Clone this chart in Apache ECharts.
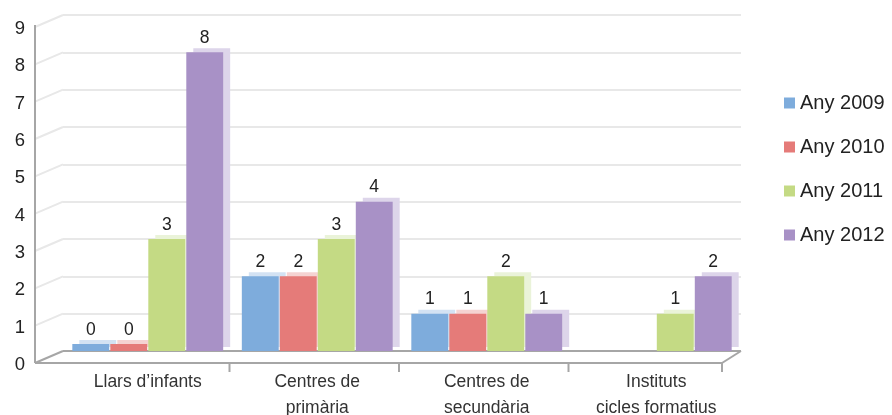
<!DOCTYPE html>
<html>
<head>
<meta charset="utf-8">
<script src="https://cdn.jsdelivr.net/npm/echarts@6/dist/echarts.min.js"></script>
<style>html,body{margin:0;padding:0;background:#fff}#c{width:892px;height:415px}</style>
</head>
<body>
<div id="c"></div>
<script>
const categories = ['Llars d\u2019infants', 'Centres de\nprimària', 'Centres de\nsecundària', 'Instituts\ncicles formatius'];
const seriesNames = ['Any 2009', 'Any 2010', 'Any 2011', 'Any 2012'];
const any2009 = [0, 2, 1, null];
const any2010 = [0, 2, 1, null];
const any2011 = [3, 3, 2, 1];
const any2012 = [8, 4, 1, 2];
const yTicks = [0, 1, 2, 3, 4, 5, 6, 7, 8, 9];

const colors = ['#7eacdc', '#e57b79', '#c4da84', '#a891c6'];
const sideColors = ['#d3e2f3', '#f5d3d2', '#eaf3d9', '#ddd5ea'];
const FONT = 'Liberation Sans, Arial, sans-serif';
const FRONT_DY = 12;   // vertical shift of the front plane (3D look)
const FRONT_X = 35;    // x of the front wall line

const chart = echarts.init(document.getElementById('c'), null, {renderer: 'canvas'});
const allData = [any2009, any2010, any2011, any2012];

chart.setOption({
  animation: false,
  textStyle: {fontFamily: FONT},
  grid: {left: 63, right: 151, top: 15, bottom: 64, containLabel: false, outerBoundsMode: 'none'},
  legend: {
    orient: 'vertical', left: 779, top: 87, itemWidth: 11, itemHeight: 11, itemGap: 22,
    icon: 'rect',
    textStyle: {fontSize: 20, color: '#222', fontFamily: FONT, lineHeight: 22},
    data: seriesNames
  },
  xAxis: {
    type: 'category', data: categories, offset: FRONT_DY - 1,
    axisLine: {show: false},
    axisTick: {show: false},
    axisLabel: {fontSize: 17.5, color: '#333', lineHeight: 26, margin: 7, fontFamily: FONT}
  },
  yAxis: {
    type: 'value', min: 0, max: 9, interval: 1, offset: 63 - FRONT_X,
    axisLine: {show: false},
    axisTick: {show: false},
    axisLabel: {fontSize: 18.5, color: '#222', margin: 10, fontFamily: FONT, verticalAlign: 'top', lineHeight: 28,
      formatter: v => yTicks.includes(v) ? String(v) : ''},
    splitLine: {lineStyle: {color: ['#a6a6a6', '#e8e8e8', '#e8e8e8', '#e8e8e8', '#e8e8e8', '#e8e8e8', '#e8e8e8', '#e8e8e8', '#e8e8e8', '#e8e8e8'], width: 2}}
  },
  series: seriesNames.map((name, i) => ({
    name, type: 'bar', data: allData[i],
    barGap: '3%', barCategoryGap: '11%', barMinHeight: 7,
    itemStyle: {color: colors[i], shadowColor: sideColors[i], shadowOffsetX: 7, shadowOffsetY: -4, shadowBlur: 0},
    label: {show: true, position: 'top', distance: 5, fontSize: 17.5, color: '#222', fontFamily: FONT,
      formatter: p => (p.value === null || p.value === undefined) ? '' : String(p.value)}
  }))
});

// 3D frame: front wall line, left-wall gridline stubs, front floor line, ticks
const graphics = [];
const S = {stroke: '#a6a6a6', lineWidth: 2};
const yTop = chart.convertToPixel({yAxisIndex: 0}, 9);
const y0 = chart.convertToPixel({yAxisIndex: 0}, 0);
yTicks.forEach(v => {
  const y = chart.convertToPixel({yAxisIndex: 0}, v);
  graphics.push({type: 'line', silent: true, z: 0,
    shape: {x1: FRONT_X, y1: y + FRONT_DY, x2: 63, y2: y},
    style: {stroke: v === 0 ? '#a6a6a6' : '#e8e8e8', lineWidth: 2}});
});
graphics.push({type: 'line', silent: true, z: 1, shape: {x1: FRONT_X, y1: yTop + FRONT_DY - 2, x2: FRONT_X, y2: y0 + FRONT_DY}, style: S});
const xEnd = 722;
graphics.push({type: 'line', silent: true, z: 1, shape: {x1: FRONT_X, y1: y0 + FRONT_DY, x2: xEnd, y2: y0 + FRONT_DY}, style: S});
graphics.push({type: 'line', silent: true, z: 1, shape: {x1: xEnd, y1: y0 + FRONT_DY, x2: 741, y2: y0}, style: S});
// ticks at category boundaries (front plane)
const c0 = chart.convertToPixel({xAxisIndex: 0}, 0);
const c1 = chart.convertToPixel({xAxisIndex: 0}, 1);
const step = c1 - c0;
[1, 2, 3].forEach(k => {
  const x = c0 + step * (k - 0.5) - 3;
  graphics.push({type: 'line', silent: true, z: 1, shape: {x1: x, y1: y0 + FRONT_DY, x2: x, y2: y0 + FRONT_DY + 9}, style: S});
});
graphics.push({type: 'line', silent: true, z: 1, shape: {x1: xEnd, y1: y0 + FRONT_DY, x2: xEnd, y2: y0 + FRONT_DY + 9}, style: S});
chart.setOption({graphic: graphics});
</script>
</body>
</html>
